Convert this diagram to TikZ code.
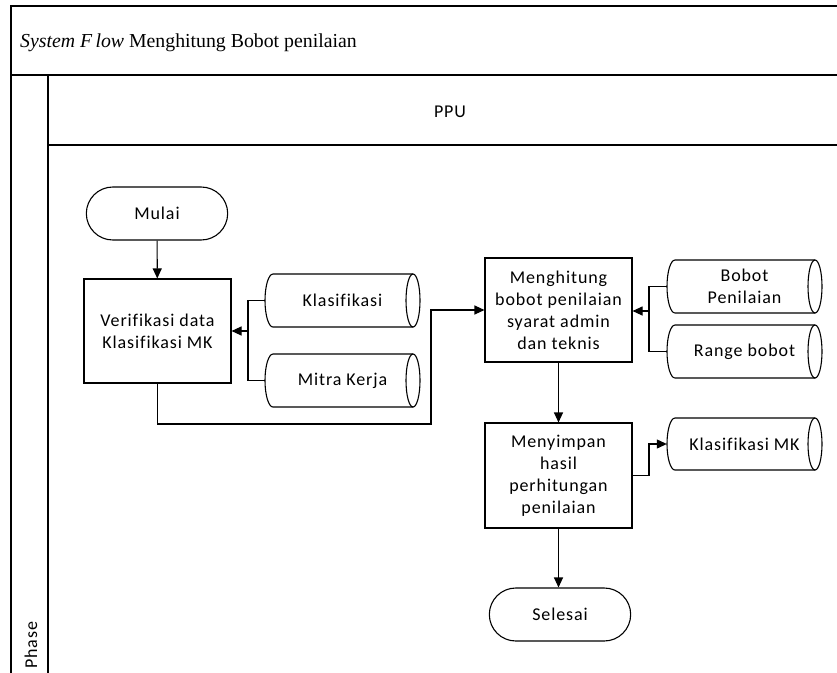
\documentclass[tikz,border=0pt]{standalone}
\usepackage{fontspec}
\setmainfont{Carlito}[LetterSpace=5,Ligatures=NoCommon]
\newfontfamily\titlefont{Liberation Serif}
\usetikzlibrary{arrows.meta,shapes.misc,calc}
\tikzset{
  lbl/.style={font=\fontsize{18}{22}\selectfont, align=center, text=black},
  procbox/.style={lbl, draw, line width=1.1pt, minimum width=147pt, minimum height=104pt, inner sep=2pt},
  termbox/.style={lbl, draw, rounded rectangle, line width=1.1pt, minimum width=148pt, minimum height=53pt},
  frame/.style={line width=1.5pt},
  conn/.style={line width=1.1pt},
  arr/.style={conn, -{Triangle[length=10pt,width=9pt]}},
  cylshape/.style={draw, line width=1.1pt}
}
% cylinder: name, x0, y0, x1, y1, text
\newcommand\dbcyl[6]{%
  \pgfmathsetmacro\cyA{(#3+#5)/2}%
  \pgfmathsetmacro\cyH{(#5-#3)/2}%
  \pgfmathsetmacro\cyW{#4-#2}%
  \pgfmathsetmacro\cyX{(#2+#4)/2}%
  \node[lbl, minimum width=\cyW pt, minimum height=2*\cyH pt, inner sep=0pt] (#1) at (\cyX,\cyA) {#6};
  \draw[cylshape] (#4-7,#3) -- (#2+8,#3) arc[start angle=90, end angle=270, x radius=8pt, y radius=\cyH pt] -- (#4-7,#5);
  \draw[cylshape] (#4-7,\cyA) ellipse[x radius=7pt, y radius=\cyH pt];
}
\begin{document}
\begin{tikzpicture}[x=1pt,y=-1pt]
\useasboundingbox (0,0) rectangle (837,672);
% frame
\draw[frame] (11,680) -- (11,6) -- (845,6);
\draw[frame] (11,75) -- (845,75);
\draw[frame] (48,75) -- (48,680);
\draw[frame] (48,145) -- (845,145);
\node[anchor=west, inner sep=0pt, font=\titlefont\fontsize{19.8}{22}\selectfont] (title) at (20,43) {\textit{System F\,low} Menghitung Bobot penilaian};
\node[lbl] (ppu) at (450,112) {PPU};
\node[lbl, rotate=90, anchor=west, inner sep=0pt] (phase) at (31,669) {Phase};
% nodes
\node[termbox] (mulai) at (157,213.5) {Mulai};
\node[procbox] (verif) at (157.5,331) {Verifikasi data\\Klasifikasi MK};
\dbcyl{klas}{265}{274}{420}{327}{Klasifikasi}
\dbcyl{mitra}{265}{354}{420}{407}{Mitra Kerja}
\node[procbox] (hitung) at (558.5,310) {Menghitung\\bobot penilaian\\syarat admin\\dan teknis};
\dbcyl{bobot}{667}{260}{822}{313}{Bobot\\Penilaian}
\dbcyl{range}{667}{325}{822}{378}{Range bobot}
\node[procbox, minimum height=105pt] (simpan) at (558.5,475.5) {Menyimpan\\hasil\\perhitungan\\penilaian};
\dbcyl{klasmk}{667}{418}{822}{470}{Klasifikasi MK}
\node[termbox] (selesai) at (560,614.5) {Selesai};
% junction coordinates
\coordinate (j1) at (248,331);
\coordinate (j2) at (649,311);
\coordinate (j3) at (649,444);
% connectors
\draw[arr] (mulai) -- (verif);
\draw[conn] (klas.west) -| (j1);
\draw[conn] (mitra.west) -| (j1);
\draw[arr] (j1) -- (verif.east);
\draw[arr] (verif.south) |- (431,424) |- (hitung.west);
\draw[conn] (bobot.west) -| (j2);
\draw[conn] (range.west) -| (j2);
\draw[arr] (j2) -- (hitung.east |- j2);
\draw[arr] (hitung) -- (simpan);
\draw[arr] (simpan.east) -| (j3) -- (klasmk.west);
\draw[arr] (simpan.south) -- (simpan.south |- selesai.north);
\end{tikzpicture}
\end{document}
